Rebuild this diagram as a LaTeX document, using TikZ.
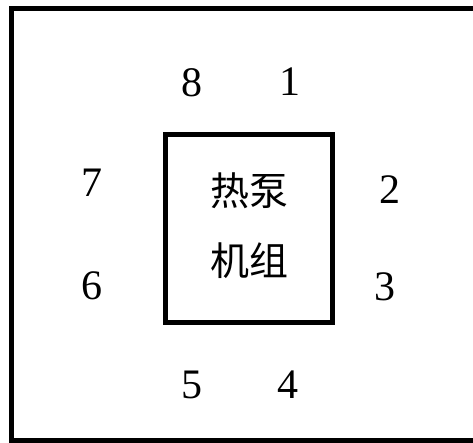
\documentclass[tikz,border=0pt]{standalone}
\usepackage{fontspec}
\setmainfont{Liberation Serif}
\newfontfamily\cjk{Noto Sans CJK SC}
\usetikzlibrary{positioning}

\begin{document}
\begin{tikzpicture}[
  x=1pt, y=-1pt,
  frame/.style={draw, line width=5pt},
  num/.style={inner sep=0pt, font=\fontsize{42}{42}\selectfont},
  unit/.style={inner sep=0pt, align=center, font=\cjk\fontsize{39}{70}\selectfont}
]
\useasboundingbox (0,0) rectangle (473,443);
\clip (0,0) rectangle (473,443);
% outer boundary (right side cut off)
\draw[frame] (11.5,8.5) rectangle (476,440.5);
% heat pump unit
\node[frame, minimum width=167pt, minimum height=188pt, inner sep=0pt] (hp) at (249,228.5) {};
\node[unit, anchor=north] (hpA) at (249,173) {热泵};
\node[unit, anchor=north] (hpB) at (249,243) {机组};
% positions
\node[num] (p8) at (192,82.5) {8};
\node[num] (p1) at (290,82) {1};
\node[num] (p7) at (92,183) {7};
\node[num] (p2) at (390,190) {2};
\node[num] (p6) at (92,286) {6};
\node[num] (p3) at (385,287) {3};
\node[num] (p5) at (192,385) {5};
\node[num] (p4) at (288,385) {4};
\end{tikzpicture}
\end{document}
